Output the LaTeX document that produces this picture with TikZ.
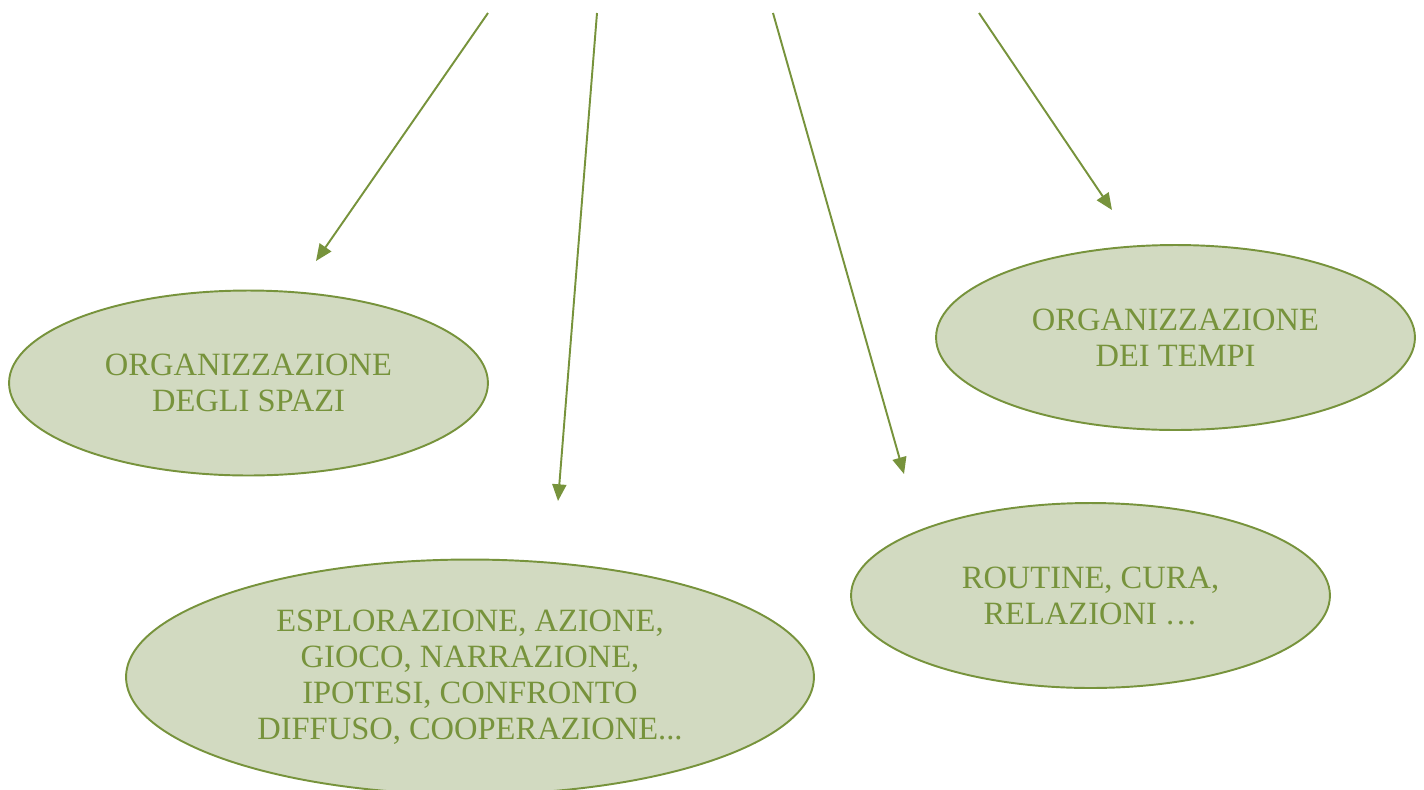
\documentclass[tikz,border=0pt]{standalone}
\usepackage{fontspec}
\setmainfont{Liberation Serif}
\usepackage{tikz}
\usetikzlibrary{positioning,arrows.meta}
\usetikzlibrary{shapes.geometric}
\definecolor{olivedark}{RGB}{119,147,60}
\definecolor{olivelight}{RGB}{210,218,193}

\begin{document}
\begin{tikzpicture}[
x=0.02cm, y=-0.02cm,
ovalnode/.style={ellipse, draw=olivedark, fill=olivelight, line width=1.1pt, inner sep=0pt,
  text=olivedark, align=center, font=\fontsize{18.5}{20.5}\selectfont,
  minimum width=9.58cm, minimum height=3.7cm},
pointer/.style={draw=olivedark, line width=1.1pt, -{Triangle[length=9.5pt,width=8pt]}}
]
\useasboundingbox (0,0) rectangle (1424,789);
%Nodes
\node[ovalnode]   (spazi)   at (248.5,383)  {ORGANIZZAZIONE\\DEGLI SPAZI};
\node[ovalnode]   (tempi)   at (1175.5,337.5) {ORGANIZZAZIONE\\DEI TEMPI};
\node[ovalnode]   (routine) at (1090.5,595.5) {ROUTINE, CURA,\\RELAZIONI \dots};
\node[ovalnode, minimum width=13.76cm, minimum height=4.7cm]
                  (esplorazione) at (470,677)
  {ESPLORAZIONE, AZIONE,\\GIOCO, NARRAZIONE,\\IPOTESI, CONFRONTO\\DIFFUSO, COOPERAZIONE...};
%Ends
\coordinate (from1) at (488,13);
\coordinate (from2) at (597,13);
\coordinate (from3) at (773,13);
\coordinate (from4) at (979,13);
\coordinate (to1) at (316,261);
\coordinate (to2) at (558,501);
\coordinate (to3) at (904,474);
\coordinate (to4) at (1112,210);
%Lines
\draw[pointer] (from1) -- (to1);
\draw[pointer] (from2) -- (to2);
\draw[pointer] (from3) -- (to3);
\draw[pointer] (from4) -- (to4);
\end{tikzpicture}
\end{document}
